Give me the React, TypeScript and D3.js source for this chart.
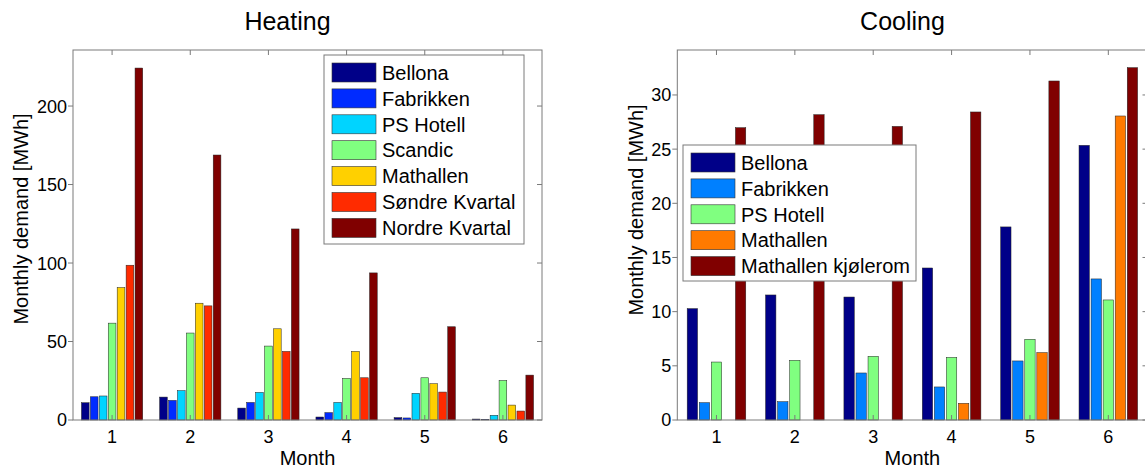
import React from 'react';
import * as d3 from 'd3';

// months on x axis
const months = [1, 2, 3, 4, 5, 6];

// heating demand, MWh per month
const heatingSeries = ['Bellona', 'Fabrikken', 'PS Hotell', 'Scandic', 'Mathallen', 'Søndre Kvartal', 'Nordre Kvartal'];
const heatBellona = [11.0, 14.6, 7.6, 1.9, 1.5, 0.6];
const heatFabrikken = [14.8, 12.5, 11.2, 4.7, 1.3, 0.4];
const heatPSHotell = [15.3, 18.7, 17.6, 11.2, 17.0, 3.0];
const heatScandic = [61.7, 55.4, 47.1, 26.5, 26.9, 25.2];
const heatMathallen = [84.4, 74.4, 58.1, 43.7, 23.1, 9.5];
const heatSondre = [98.6, 72.7, 43.7, 26.9, 17.8, 5.7];
const heatNordre = [224.2, 168.8, 121.7, 93.7, 59.4, 28.6];
const heatingColors = ['#000088', '#002bff', '#00d4ff', '#80ff80', '#ffd000', '#ff2b00', '#800000'];
const heatingTicks = [0, 50, 100, 150, 200];

// cooling demand, MWh per month
const coolingSeries = ['Bellona', 'Fabrikken', 'PS Hotell', 'Mathallen', 'Mathallen kjølerom'];
const coolBellona = [10.28, 11.54, 11.35, 14.03, 17.82, 25.35];
const coolFabrikken = [1.6, 1.69, 4.34, 3.05, 5.45, 13.02];
const coolPSHotell = [5.35, 5.51, 5.88, 5.78, 7.45, 11.08];
const coolMathallen = [0, 0, 0, 1.54, 6.22, 28.06];
const coolKjolerom = [26.98, 28.18, 27.1, 28.43, 31.29, 32.52];
const coolingColors = ['#000088', '#0080ff', '#80ff80', '#ff7a00', '#800000'];
const coolingTicks = [0, 5, 10, 15, 20, 25, 30];

const heatingValues = [heatBellona, heatFabrikken, heatPSHotell, heatScandic, heatMathallen, heatSondre, heatNordre];
const coolingValues = [coolBellona, coolFabrikken, coolPSHotell, coolMathallen, coolKjolerom];

const FONT = 'Liberation Sans, Arial, sans-serif';
const AXIS = '#7a7a7a';

type PanelProps = {
    title: string
    titleX: number
    left: number
    right: number
    yMax: number
    ticks: number[]
    series: string[]
    values: number[][]
    colors: string[]
    legend: { x: number, y: number, w: number, h: number }
    yLabelX: number
    yLabelY: number
}

const Panel = (props: PanelProps) => {
    const top = 50
    const bottom = 420
    const x = d3.scaleLinear().domain([0.5, 6.5]).range([props.left, props.right])
    const y = d3.scaleLinear().domain([0, props.yMax]).range([bottom, top])

    const n = props.series.length
    const groupWidth = Math.min(0.8, n / (n + 1.5))
    const slot = groupWidth / n
    const barW = x(slot * 0.86) - x(0)

    const lg = props.legend
    const rowH = 25.9

    return (
        <g>
            <text x={props.titleX} y={30} fontSize={25} textAnchor="middle" fontFamily={FONT}>{props.title}</text>

            {props.values.map((vals, si) => (
                <g key={si}>
                    {months.map((m, mi) => {
                        const cx = m - groupWidth / 2 + slot * (si + 0.5)
                        const v = vals[mi]
                        if (!v) return null
                        return (
                            <rect key={mi}
                                x={x(cx) - barW / 2}
                                y={y(v)}
                                width={barW}
                                height={y(0) - y(v)}
                                fill={props.colors[si]}
                                stroke="#222"
                                strokeWidth={0.5} />
                        )
                    })}
                </g>
            ))}

            {/* axes box */}
            <rect x={props.left} y={top} width={props.right - props.left} height={bottom - top}
                fill="none" stroke={AXIS} strokeWidth={1} />

            {props.ticks.map(t => (
                <g key={t}>
                    <line x1={props.left - 5} x2={props.left} y1={y(t)} y2={y(t)} stroke={AXIS} />
                    <line x1={props.right - 5} x2={props.right} y1={y(t)} y2={y(t)} stroke={AXIS} />
                    <text x={props.left - 6} y={y(t)} dy="0.36em" fontSize={18} textAnchor="end" fontFamily={FONT}>{t}</text>
                </g>
            ))}

            {months.map(m => (
                <g key={m}>
                    <line x1={x(m)} x2={x(m)} y1={top} y2={top + 5} stroke={AXIS} />
                    <line x1={x(m)} x2={x(m)} y1={bottom} y2={bottom - 5} stroke={AXIS} />
                    <text x={x(m)} y={443} fontSize={18} textAnchor="middle" fontFamily={FONT}>{m}</text>
                </g>
            ))}

            <text x={(props.left + props.right) / 2} y={465} fontSize={20} textAnchor="middle" fontFamily={FONT}>Month</text>

            <text transform={`translate(${props.yLabelX},${props.yLabelY}) rotate(-90)`}
                fontSize={20} textAnchor="middle" fontFamily={FONT}>Monthly demand [MWh]</text>

            {/* legend */}
            <rect x={lg.x} y={lg.y} width={lg.w} height={lg.h} fill="#fff" stroke={AXIS} strokeWidth={1} />
            {props.series.map((s, i) => {
                const cy = lg.y + 17.5 + i * rowH
                return (
                    <g key={s}>
                        <rect x={lg.x + 8} y={cy - 9.5} width={44} height={19} fill={props.colors[i]} stroke="#333" strokeWidth={0.6} />
                        <text x={lg.x + 58} y={cy} dy="0.36em" fontSize={20} fontFamily={FONT}>{s}</text>
                    </g>
                )
            })}
        </g>
    )
}

export default function App() {
    return (
        <svg width={1145} height={474} style={{ position: 'absolute', left: 0, top: 0, background: '#fff' }}>
            <rect width={1145} height={474} fill="#fff" />
            <Panel title="Heating" titleX={287.5} left={73} right={542}
                yMax={235.7} ticks={heatingTicks}
                series={heatingSeries} values={heatingValues} colors={heatingColors}
                legend={{ x: 324, y: 55, w: 200, h: 189 }}
                yLabelX={28} yLabelY={219} />
            <Panel title="Cooling" titleX={902.5} left={677.3} right={1147.5}
                yMax={34.15} ticks={coolingTicks}
                series={coolingSeries} values={coolingValues} colors={coolingColors}
                legend={{ x: 683, y: 145, w: 233, h: 136 }}
                yLabelX={643} yLabelY={210} />
        </svg>
    )
}
